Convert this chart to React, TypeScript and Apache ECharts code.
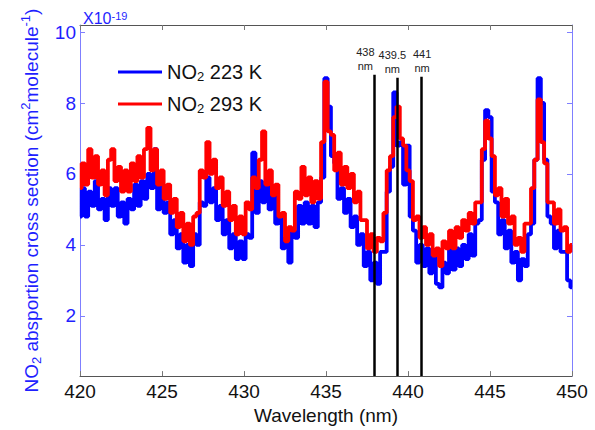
import React, { useEffect, useRef } from 'react';
import * as echarts from 'echarts';

// wavelength grid (nm): 420.0 .. 450.0 in 0.2 nm steps
const wlStart = 420;
const wlStep = 0.2;

// NO2 absorption cross section, x1e-19 cm^2/molecule
const no2_223K = [
  4.8, 5.6, 4.8, 5.5, 5.1, 5.8, 5.0, 5.3, 4.7, 5.6,
  5.1, 5.6, 4.8, 5.2, 4.6, 5.3, 5.0, 5.7, 5.1, 5.8,
  5.3, 6.0, 5.6, 6.7, 5.0, 5.7, 4.9, 5.2, 4.3, 4.7,
  3.9, 4.3, 3.5, 4.0, 3.4, 4.3, 4.0, 5.2, 5.1, 5.9,
  5.2, 5.6, 4.7, 5.1, 4.3, 4.7, 3.9, 4.3, 3.6, 4.1,
  3.6, 4.3, 4.2, 6.6, 4.9, 5.8, 5.2, 5.7, 5.0, 5.4,
  4.6, 4.8, 3.9, 4.2, 3.5, 4.4, 4.2, 5.1, 4.6, 5.2,
  4.6, 5.1, 4.5, 5.2, 5.9, 8.7, 7.9, 6.5, 6.3, 5.3,
  5.6, 4.9, 5.3, 4.5, 4.8, 4.0, 4.3, 3.4, 3.8, 3.0,
  3.5, 2.9, 3.8, 3.8, 5.5, 6.2, 8.3, 6.8, 6.9, 5.7,
  6.8, 4.8, 4.4, 3.5, 4.0, 3.4, 3.9, 3.2, 3.7, 2.9,
  2.8, 3.5, 3.2, 3.9, 3.3, 3.9, 3.4, 4.0, 3.6, 4.3,
  3.7, 4.6, 4.7, 6.4, 7.8, 7.6, 5.5, 5.2, 4.3, 4.7,
  3.9, 4.4, 3.5, 3.8, 3.0, 3.6, 3.4, 4.3, 4.6, 6.4,
  8.7, 8.0, 6.4, 4.8, 4.6, 3.9, 4.4, 3.8, 3.8, 3.0,
  2.8,
];

const no2_293K = [
  5.6, 6.3, 5.7, 6.7, 5.9, 6.5, 5.7, 6.1, 5.4, 6.4,
  6.7, 5.8, 6.2, 5.5, 6.1, 5.5, 6.3, 5.8, 6.5, 5.9,
  6.7, 7.3, 6.1, 6.7, 5.7, 6.1, 5.3, 5.7, 4.9, 5.3,
  4.5, 4.9, 4.1, 4.6, 4.0, 4.8, 4.9, 6.1, 5.9, 6.9,
  6.0, 6.4, 5.6, 5.9, 5.1, 5.5, 4.7, 5.1, 4.3, 4.8,
  4.3, 5.2, 5.0, 5.9, 5.6, 6.4, 7.2, 5.7, 6.1, 5.4,
  5.7, 4.8, 4.9, 4.1, 4.5, 4.4, 5.5, 5.3, 6.2, 5.4,
  5.9, 5.2, 5.8, 5.3, 6.9, 8.6, 7.2, 7.1, 6.1, 6.6,
  5.7, 6.2, 5.6, 6.0, 5.2, 5.5, 4.7, 4.7, 3.9, 4.3,
  3.8, 4.2, 4.1, 4.9, 6.1, 6.5, 7.6, 7.9, 7.0, 6.8,
  6.1, 5.8, 4.7, 4.8, 4.2, 4.5, 4.0, 4.3, 3.7, 3.9,
  3.4, 4.1, 3.9, 4.4, 3.9, 4.5, 4.2, 4.7, 4.4, 4.9,
  4.6, 5.2, 5.2, 6.7, 7.5, 7.0, 6.5, 5.4, 5.6, 4.8,
  5.3, 4.6, 4.8, 4.0, 4.2, 3.8, 4.6, 4.6, 5.6, 6.4,
  8.1, 6.9, 6.3, 5.2, 5.2, 4.6, 5.0, 4.4, 4.5, 3.8,
  4.0,
];

const seriesNames = ['NO2 223 K', 'NO2 293 K'];

// marker lines
const markerWl = [437.95, 439.35, 440.8];
const markerTop = [8.8, 8.71, 8.74];
const markerLabels = ['438', '439.5', '441'];

const yTickValues = [2, 4, 6, 8, 10];

const FONT = 'Arial, "Liberation Sans", Helvetica, sans-serif';
const BLUE_TEXT = '#1f1fff';
const BLUE_AXIS = '#7f7fff';

export default function App() {
  const ref = useRef<HTMLDivElement>(null);

  useEffect(() => {
    if (!ref.current) return;
    const chart = echarts.init(ref.current, null, { renderer: 'svg' });
    const toPairs = (arr: number[]) =>
      arr.map((v, i) => [Number((wlStart + i * wlStep).toFixed(1)), v]);

    const xCommon = {
      type: 'value' as const,
      min: 420,
      max: 450,
      interval: 5,
      splitLine: { show: false },
      axisLine: { show: true, lineStyle: { color: '#555', width: 1 } },
      axisTick: { show: true, inside: true, length: 5, lineStyle: { color: '#777' } },
    };
    const yCommon = {
      type: 'value' as const,
      min: 0.3,
      max: 10.2,
      splitLine: { show: false },
      axisLine: { show: true, lineStyle: { color: BLUE_AXIS, width: 1 } },
      axisTick: {
        show: true,
        inside: true,
        length: 5,
        customValues: yTickValues,
        lineStyle: { color: BLUE_AXIS },
      },
    };

    const markerPadding = [
      [0, 18, 0, 0],
      [0, 10, 0, 0],
      [0, 0, 0, 2],
    ];

    const option: any = {
      animation: false,
      grid: { left: 80, right: 23, top: 25, bottom: 51, containLabel: false },
      xAxis: [
        {
          ...xCommon,
          position: 'bottom',
          axisLabel: { color: '#111', fontSize: 19, margin: 6, fontFamily: FONT },
          name: 'Wavelength (nm)',
          nameLocation: 'middle',
          nameGap: 27,
          nameTextStyle: { color: '#111', fontSize: 19, fontFamily: FONT },
        },
        {
          ...xCommon,
          position: 'top',
          axisLabel: { show: false },
        },
      ],
      yAxis: [
        {
          ...yCommon,
          position: 'left',
          axisLabel: {
            customValues: yTickValues,
            color: BLUE_TEXT,
            fontSize: 19,
            margin: 4,
            fontFamily: FONT,
          },
          name: 'NO{sub|2} absportion cross section (cm{sup|2}molecule{sup|-1})',
          nameLocation: 'middle',
          nameGap: 37,
          nameRotate: 90,
          nameTextStyle: {
            color: BLUE_TEXT,
            fontSize: 19,
            lineHeight: 24,
            fontFamily: FONT,
            rich: {
              sub: { fontSize: 13, lineHeight: 13, verticalAlign: 'bottom', color: BLUE_TEXT, fontFamily: FONT },
              sup: { fontSize: 13, lineHeight: 13, verticalAlign: 'top', color: BLUE_TEXT, fontFamily: FONT },
            },
          },
        },
        {
          ...yCommon,
          position: 'right',
          axisLabel: { show: false },
        },
      ],
      legend: {
        data: seriesNames,
        orient: 'vertical',
        left: 113,
        top: 56,
        icon: 'rect',
        itemWidth: 44,
        itemHeight: 3,
        itemGap: 10,
        formatter: (name: string) => name.replace('NO2', 'NO{sub|2}'),
        textStyle: {
          color: '#111',
          fontSize: 20,
          lineHeight: 22,
          fontFamily: FONT,
          rich: {
            sub: { fontSize: 13, lineHeight: 13, verticalAlign: 'bottom', color: '#111', fontFamily: FONT },
          },
        },
      },
      graphic: [
        {
          type: 'text',
          left: 83,
          top: 10,
          style: {
            text: 'X10{s|-19}',
            fill: BLUE_TEXT,
            fontSize: 16,
            fontFamily: FONT,
            rich: { s: { fontSize: 11, verticalAlign: 'top', fill: BLUE_TEXT, fontFamily: FONT } },
          },
        },
      ],
      series: [
        {
          name: seriesNames[0],
          type: 'line',
          step: 'middle',
          xAxisIndex: 0,
          yAxisIndex: 0,
          data: toPairs(no2_223K),
          symbol: 'none',
          showSymbol: false,
          color: '#0000ff',
          lineStyle: { color: '#0000ff', width: 3.8 },
          z: 2,
        },
        {
          name: seriesNames[1],
          type: 'line',
          step: 'middle',
          xAxisIndex: 0,
          yAxisIndex: 0,
          data: toPairs(no2_293K),
          symbol: 'none',
          showSymbol: false,
          color: '#ff0000',
          lineStyle: { color: '#ff0000', width: 3.8 },
          z: 3,
        },
        {
          name: 'markers',
          type: 'line',
          xAxisIndex: 0,
          yAxisIndex: 0,
          data: [],
          symbol: 'none',
          z: 4,
          markLine: {
            silent: true,
            animation: false,
            symbol: ['none', 'none'],
            lineStyle: { color: '#000', width: 2.5, type: 'solid' },
            data: markerWl.map((x, i) => {
              const label = {
                show: true,
                position: 'end',
                distance: 2,
                formatter: markerLabels[i] + '\nnm',
                color: '#222',
                fontSize: 11,
                lineHeight: 14,
                fontFamily: FONT,
                padding: markerPadding[i],
              };
              return [
                { coord: [x, 0.3], label },
                { coord: [x, markerTop[i]], label },
              ];
            }),
          },
        },
      ],
    };

    chart.setOption(option);
    return () => chart.dispose();
  }, []);

  return (
    <div
      ref={ref}
      style={{ position: 'fixed', left: 0, top: 0, width: 595, height: 430, background: '#fff' }}
    />
  );
}
